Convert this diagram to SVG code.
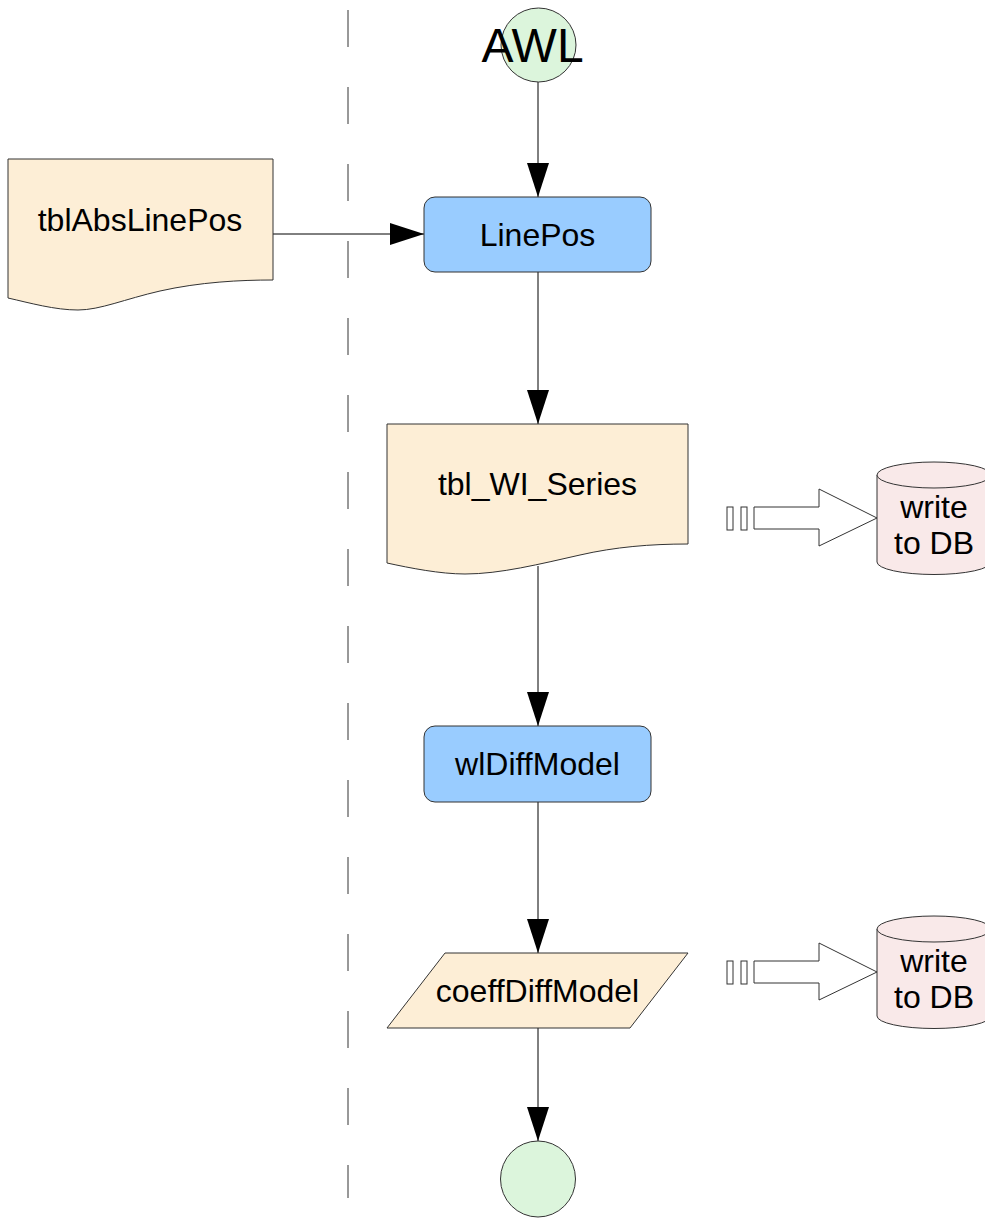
<svg xmlns="http://www.w3.org/2000/svg" width="985" height="1218" viewBox="0 0 985 1218">
<style>
  .lbl { font-family: "Liberation Sans", Arial, sans-serif; font-size: 32px; fill: #000; text-anchor: middle; }
  .doc { fill: #fdeed6; stroke: #333; stroke-width: 1; }
  .proc { fill: #99ccff; stroke: #333; stroke-width: 1; }
  .term { fill: #dcf5dc; stroke: #333; stroke-width: 1; }
  .db { fill: #f9e9e9; stroke: #333; stroke-width: 1; }
  .barrow { fill: #fff; stroke: #333; stroke-width: 1; }
  .conn { fill: none; stroke: #000; stroke-width: 1; }
</style>
<defs>
  <marker id="ah" markerUnits="userSpaceOnUse" markerWidth="34" markerHeight="22" refX="34" refY="11" orient="auto">
    <path d="M0,0 L34,11 L0,22 z" fill="#000"/>
  </marker>
</defs>
<rect width="985" height="1218" fill="#fff"/>

<line id="divider" x1="348" y1="10" x2="348" y2="1198" stroke="#333" stroke-width="1" stroke-dasharray="37,40"/>

<g id="connectors">
  <line class="conn" x1="538" y1="82" x2="538" y2="197" marker-end="url(#ah)"/>
  <line class="conn" x1="273" y1="234" x2="424" y2="234" marker-end="url(#ah)"/>
  <line class="conn" x1="538" y1="272" x2="538" y2="424" marker-end="url(#ah)"/>
  <line class="conn" x1="538" y1="566" x2="538" y2="726" marker-end="url(#ah)"/>
  <line class="conn" x1="538" y1="802" x2="538" y2="953" marker-end="url(#ah)"/>
  <line class="conn" x1="538" y1="1028" x2="538" y2="1141" marker-end="url(#ah)"/>
</g>

<g id="start">
  <ellipse class="term" cx="538.5" cy="45" rx="37.5" ry="37"/>
  <text x="532.5" y="62" class="lbl" style="font-size:48px">AWL</text>
</g>

<g id="tblAbsLinePos">
  <path class="doc" d="M8,159 H273 V280 C240,280 200,282 160,291 C125,299 100,310 78,310 C55,310 30,303 8,298 Z"/>
  <text x="140" y="231" class="lbl">tblAbsLinePos</text>
</g>

<g id="LinePos">
  <rect class="proc" x="424" y="197" width="227" height="75" rx="11"/>
  <text x="537.5" y="246" class="lbl">LinePos</text>
</g>

<g id="tbl_WI_Series">
  <path class="doc" d="M387,424 H688 V544 C650,544 615,547 580,555 C540,564 500,574 465,574 C440,574 410,568 387,563 Z"/>
  <text x="537.5" y="495" class="lbl">tbl_WI_Series</text>
</g>

<g id="wlDiffModel">
  <rect class="proc" x="424" y="726" width="227" height="76" rx="11"/>
  <text x="537.5" y="775" class="lbl">wlDiffModel</text>
</g>

<g id="coeffDiffModel">
  <polygon class="doc" points="445,953 688,953 630,1028 387,1028"/>
  <text x="537.5" y="1002" class="lbl">coeffDiffModel</text>
</g>

<g id="end">
  <ellipse class="term" cx="538" cy="1179" rx="37.5" ry="38"/>
</g>

<g id="flow1">
  <rect class="barrow" x="727" y="507" width="6" height="23"/>
  <rect class="barrow" x="741" y="507" width="6" height="23"/>
  <polygon class="barrow" points="754,507 819,507 819,489 877,518 819,546 819,529 754,529"/>
</g>

<g id="db1">
  <path class="db" d="M877,475 A57,13 0 0 1 991,475 V562 A57,12.5 0 0 1 877,562 Z"/>
  <path class="db" d="M877,475 A57,13 0 0 0 991,475" fill="none"/>
  <text x="934" y="518" class="lbl">write</text>
  <text x="934" y="554" class="lbl">to DB</text>
</g>

<g id="flow2">
  <rect class="barrow" x="727" y="961" width="6" height="23"/>
  <rect class="barrow" x="741" y="961" width="6" height="23"/>
  <polygon class="barrow" points="754,961 819,961 819,943 877,972 819,1000 819,983 754,983"/>
</g>

<g id="db2">
  <path class="db" d="M877,929 A57,13 0 0 1 991,929 V1016 A57,12.5 0 0 1 877,1016 Z"/>
  <path class="db" d="M877,929 A57,13 0 0 0 991,929" fill="none"/>
  <text x="934" y="972" class="lbl">write</text>
  <text x="934" y="1008" class="lbl">to DB</text>
</g>
</svg>
